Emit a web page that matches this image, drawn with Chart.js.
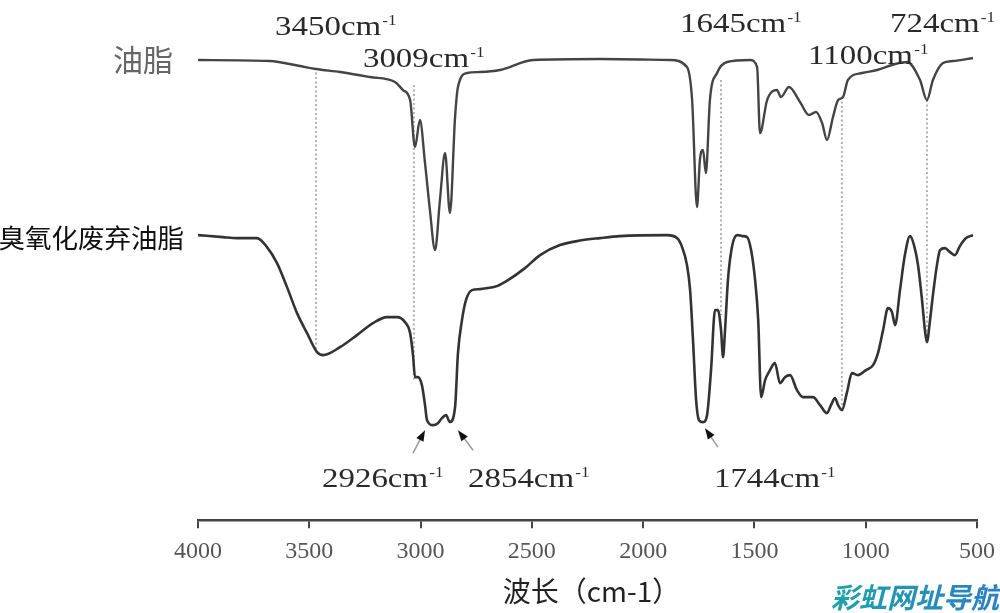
<!DOCTYPE html>
<html><head><meta charset="utf-8">
<script src="https://cdn.jsdelivr.net/npm/chart.js@4"></script>
<style>html,body{margin:0;padding:0;background:#fff}#wrap{width:1000px;height:613px;position:relative}</style>
</head><body><div id="wrap"><canvas id="c"></canvas></div>
<script>
// ---- data (wavenumber in cm-1, transmittance in arbitrary offset units) ----
const oilWn = [4000,3677,3542,3470,3362,3227,3115,3079,3047,3025,3003,2980,2958,2935,2913,2890,2868,2845,2832,2791,2733,2643,2495,2194,1879,1803,1780,1758,1745,1731,1718,1700,1668,1623,1520,1488,1475,1443,1399,1381,1345,1295,1255,1223,1196,1174,1147,1124,1102,1080,1017,949,868,814,756,725,698,653,608,518];
const oilT = [92,91.8,90.8,90.2,89.6,88.6,87.6,86,84,74.6,80,71.4,62,54,64,73.4,61.4,80.6,86.6,89.4,89.6,90,92,92.2,92,90.6,84,62.6,72,74,69.4,84,89.4,91.6,92,90.6,77.4,84,86,84.6,86.6,83.6,81,81.6,79.4,76,80.6,84,84.6,88,89.4,90,91.2,91.6,88,84,88,91.4,91.8,92.4];
const ozoWn = [4000,3888,3825,3735,3690,3645,3600,3555,3510,3465,3438,3362,3286,3214,3151,3106,3070,3047,3034,3025,3012,2994,2980,2971,2944,2922,2904,2886,2868,2845,2832,2814,2796,2769,2733,2701,2657,2607,2531,2463,2374,2284,2194,2104,1893,1848,1825,1803,1789,1776,1762,1749,1731,1713,1695,1677,1664,1650,1641,1632,1619,1601,1578,1555,1533,1515,1497,1483,1470,1452,1430,1408,1385,1363,1340,1309,1282,1237,1205,1174,1156,1138,1124,1107,1084,1062,1035,999,967,945,922,900,882,868,846,824,801,783,765,747,734,725,711,698,680,666,644,621,599,577,549,518];
const ozoT = [57,56.6,56.4,56.4,54.6,51.4,46.6,41.4,37.4,33.6,33,34.6,37,39.4,40.6,40.6,39.6,37.4,33,28.6,28.6,27,23,20,19,19.4,20.4,21,19.6,22.6,33.4,40,44,46,46.2,46.4,46.8,48,50.4,53,55,55.9,56.4,56.8,57,56.4,54.6,51,46,36,24,20,19.6,21,30,42,42,38,32.6,38,48,54.6,57,56.8,56.6,54,48,40,24.6,28,30,31.4,27.4,28.6,29,26,24.6,24.6,23,21.4,23,24.4,23,22,25.6,29.4,29,30,31,33.4,38,42.4,41.6,39,46,53,56.8,55,51,44,38,35.6,40,45,51,54,54.4,53.6,53,54.8,56.4,57];
const seriesNames = ['油脂','臭氧化废弃油脂'];
const xTickValues = [4000,3500,3000,2500,2000,1500,1000,500];
const xTitle = '波长（cm-1）';
// peak annotations: label number, anchor wavenumber (left edge), vertical anchor
const peakLabels = [
  {t:'3450', w:3654, y:98.8},{t:'3009', w:3259, y:92.4},{t:'1645', w:1834, y:99.4},
  {t:'1100', w:1259, y:93},{t:'724', w:891, y:99.4},
  {t:'2926', w:3443, y:8.4},{t:'2854', w:2787, y:8.4},{t:'1744', w:1682, y:8.4}
];
const guideLines = [
  {w:3470, y1:90.4, y2:33.6},{w:3030, y1:87, y2:28},{w:1650, y1:88, y2:41},
  {w:1107, y1:84.6, y2:22},{w:725, y1:84, y2:35.6}
];
const arrows = [
  {w1:3034, y1:13.4, w2:2980, y2:18},{w1:2764, y1:14, w2:2832, y2:18},{w1:1664, y1:14.6, w2:1722, y2:18.4}
];
const seriesLabelY = [92, 56.4];

const toXY = (ws, ts) => ws.map((w,i)=>({x:w, y:ts[i]}));

const annot = {
  id:'annot',
  beforeDatasetsDraw(chart){
    const {ctx, scales:{x,y}} = chart;
    ctx.save();
    ctx.strokeStyle = '#b0b0b0'; ctx.lineWidth = 2; ctx.setLineDash([2,2.5]);
    guideLines.forEach(g=>{
      const px = x.getPixelForValue(g.w);
      ctx.beginPath(); ctx.moveTo(px, y.getPixelForValue(g.y1)); ctx.lineTo(px, y.getPixelForValue(g.y2)); ctx.stroke();
    });
    ctx.restore();
  },
  afterDatasetsDraw(chart){
    const {ctx, scales:{x,y}, chartArea} = chart;
    ctx.save();
    // peak labels
    peakLabels.forEach(p=>{
      const px = x.getPixelForValue(p.w), py = y.getPixelForValue(p.y);
      ctx.save(); ctx.translate(px, py); ctx.scale(1.22,1);
      ctx.fillStyle = '#2a2a2a'; ctx.textBaseline = 'alphabetic'; ctx.textAlign='left';
      ctx.font = '27px "Liberation Serif"';
      const s = p.t + 'cm'; ctx.fillText(s, 0, 9);
      const wd = ctx.measureText(s).width;
      ctx.font = '14px "Liberation Serif"'; ctx.fillText('-1', wd+1, -1);
      ctx.restore();
    });
    // arrows
    arrows.forEach(a=>{
      const x1=x.getPixelForValue(a.w1), y1=y.getPixelForValue(a.y1), x2=x.getPixelForValue(a.w2), y2=y.getPixelForValue(a.y2);
      const ang = Math.atan2(y2-y1, x2-x1);
      ctx.strokeStyle='#999'; ctx.lineWidth=1.5; ctx.setLineDash([]);
      ctx.beginPath(); ctx.moveTo(x1,y1); ctx.lineTo(x2-7*Math.cos(ang), y2-7*Math.sin(ang)); ctx.stroke();
      ctx.fillStyle='#111';
      ctx.beginPath(); ctx.moveTo(x2,y2);
      ctx.lineTo(x2-11*Math.cos(ang)+4*Math.sin(ang), y2-11*Math.sin(ang)-4*Math.cos(ang));
      ctx.lineTo(x2-11*Math.cos(ang)-4*Math.sin(ang), y2-11*Math.sin(ang)+4*Math.cos(ang));
      ctx.closePath(); ctx.fill();
    });
    // series labels
    ctx.textAlign='right'; ctx.textBaseline='middle';
    ctx.font = '30px "Noto Sans CJK SC"'; ctx.fillStyle='#666';
    ctx.fillText(seriesNames[0], chartArea.left-25, y.getPixelForValue(seriesLabelY[0]));
    ctx.font = '26.5px "Noto Sans CJK SC"'; ctx.fillStyle='#111';
    ctx.fillText(seriesNames[1], chartArea.left-14, y.getPixelForValue(seriesLabelY[1]));
    // axis title
    ctx.textAlign='center'; ctx.textBaseline='middle';
    ctx.font = '28px "Noto Sans CJK SC"'; ctx.fillStyle='#222';
    ctx.fillText(xTitle, (chartArea.left+chartArea.right)/2 + 4, chartArea.bottom + 71);
    // watermark
    ctx.textAlign='right'; ctx.textBaseline='bottom';
    ctx.font = 'italic bold 28px "Noto Sans CJK SC"';
    const g = ctx.createLinearGradient(820,0,1000,0); g.addColorStop(0,'#1aa6a6'); g.addColorStop(1,'#2d7fc4');
    ctx.fillStyle = g; ctx.fillText('彩虹网址导航', 999, 611);
    ctx.restore();
  }
};

new Chart(document.getElementById('c'), {
  type:'line',
  data:{ datasets:[
    {label:seriesNames[0], data:toXY(oilWn,oilT), borderColor:'#444', borderWidth:2.4, pointRadius:0, cubicInterpolationMode:'monotone', fill:false},
    {label:seriesNames[1], data:toXY(ozoWn,ozoT), borderColor:'#333', borderWidth:2.6, pointRadius:0, cubicInterpolationMode:'monotone', fill:false}
  ]},
  options:{
    responsive:true, maintainAspectRatio:false, animation:false,
    layout:{padding:{left:198, right:23, top:0, bottom:38}},
    plugins:{legend:{display:false}, tooltip:{enabled:false}},
    scales:{
      x:{type:'linear', reverse:true, min:500, max:4000,
        afterBuildTicks(s){ s.ticks = xTickValues.map(v=>({value:v})); },
        afterFit(s){ s.paddingLeft = 0; s.paddingRight = 0; },
        grid:{display:true, drawOnChartArea:false, drawTicks:true, tickLength:8, color:'#444', lineWidth:2},
        border:{display:true, color:'#444', width:2.5},
        ticks:{color:'#555', padding:9, font:{family:'"Liberation Serif"', size:24}, maxRotation:0, autoSkip:false,
          callback:(v)=>String(v)},
        title:{display:false}
      },
      y:{display:false, min:0, max:104}
    }
  },
  plugins:[annot]
});
</script></body></html>
